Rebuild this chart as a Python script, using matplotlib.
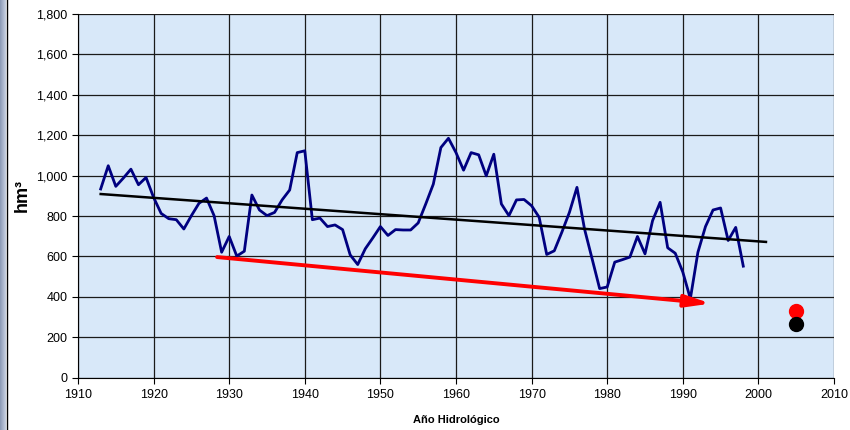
import numpy as np
import matplotlib.pyplot as plt
from matplotlib.ticker import FuncFormatter, MultipleLocator

plt.rcParams['font.family'] = ['Liberation Sans', 'DejaVu Sans']

# annual volume, hm3, hydrological years 1913-1998
years = np.arange(1913, 1999)
volume = [934, 1049, 947, 988, 1032, 955, 991, 892, 813, 787,
          782, 736, 802, 863, 889, 802, 621, 699, 602, 626,
          904, 830, 802, 818, 880, 929, 1114, 1123, 782, 790,
          748, 756, 733, 608, 560, 638, 692, 748, 704, 733,
          731, 731, 766, 860, 958, 1139, 1185, 1114, 1027, 1114,
          1103, 999, 1106, 860, 802, 880, 882, 851, 794, 610,
          628, 720, 818, 942, 736, 589, 441, 449, 572, 584,
          597, 699, 613, 777, 868, 643, 616, 523, 391, 621,
          748, 830, 840, 679, 744, 552]

trend_years = [1913, 2001]
trend_vals = [909, 672]

arrow_start = (1928.4, 597)
arrow_end = (1993.7, 367)

dot_year = 2005
dot_red = 329
dot_black = 266

fig = plt.figure(figsize=(8.5, 4.3), dpi=100)
fig.patch.set_facecolor('white')

# left decorative strip
strip = fig.add_axes([0, 0, 6 / 850, 1])
grad = np.linspace(0, 1, 50).reshape(1, -1)
strip.imshow(grad, aspect='auto', cmap=plt.matplotlib.colors.LinearSegmentedColormap.from_list(
    'g', ['#8a98b4', '#c9d2e2']), extent=[0, 1, 0, 1])
strip.axis('off')
fig.add_artist(plt.Line2D([7 / 850, 7 / 850], [0, 1], color='black', lw=1))

ax = fig.add_axes([78 / 850, 1 - 377.7 / 430, (834 - 78) / 850, (377.7 - 14) / 430])
ax.set_facecolor('#d8e8f9')

ax.plot(years, volume, color='#000080', lw=2, zorder=3)
ax.plot(trend_years, trend_vals, color='black', lw=1.8, zorder=3)
ax.annotate('', xy=arrow_end, xytext=arrow_start,
            arrowprops=dict(arrowstyle='-|>,head_length=1.5,head_width=0.36',
                            color='#ff0000', lw=2.8, shrinkA=0, shrinkB=0),
            zorder=4)
ax.plot([dot_year], [dot_red], 'o', color='#ff0000', ms=10, zorder=5)
ax.plot([dot_year], [dot_black], 'o', color='black', ms=10, zorder=5)

ax.set_xlim(1910, 2010)
ax.set_ylim(0, 1800)
ax.xaxis.set_major_locator(MultipleLocator(10))
ax.yaxis.set_major_locator(MultipleLocator(200))
ax.yaxis.set_major_formatter(FuncFormatter(lambda v, p: f'{int(v):,}'))
ax.grid(True, color='#1a1a1a', lw=0.9)
ax.set_axisbelow(True)
ax.tick_params(axis='both', labelsize=9, length=4, direction='out', color='black')
ax.tick_params(axis='x', pad=4)
for s in ['top', 'right']:
    ax.spines[s].set_visible(False)
ax.spines['left'].set_color('black')
ax.spines['bottom'].set_color('black')

ax.set_xlabel('Año Hidrológico', fontsize=8, fontweight='bold', labelpad=10)
ax.set_ylabel('hm³', fontsize=13, fontweight='bold', labelpad=4)

fig.savefig('out.png', dpi=100)
